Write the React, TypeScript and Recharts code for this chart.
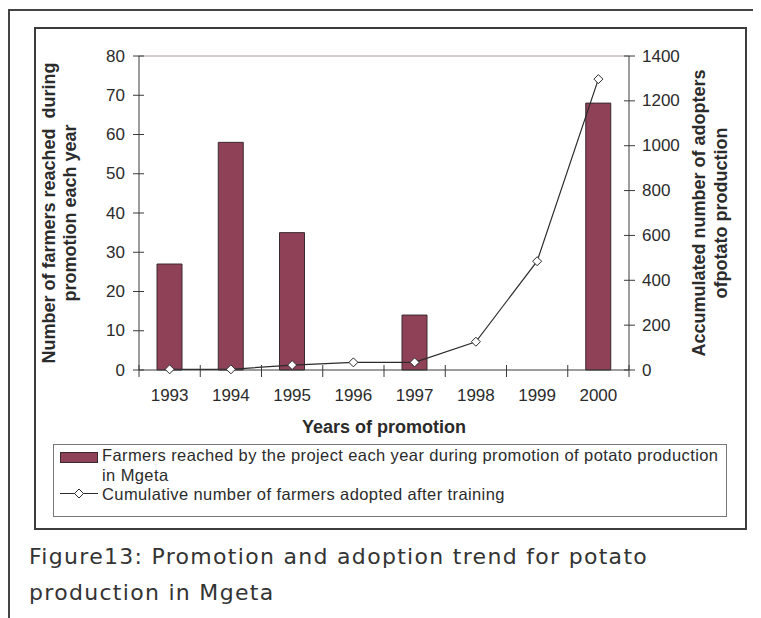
import React from 'react';
import { ComposedChart, Bar, Line, XAxis, YAxis, ReferenceLine } from 'recharts';

const years = ['1993', '1994', '1995', '1996', '1997', '1998', '1999', '2000'];
const farmersReached = [27, 58, 35, null, 14, null, null, 68];
const cumulativeAdopters = [3, 3, 22, 34, 34, 126, 485, 1297];
const leftTicks = [0, 10, 20, 30, 40, 50, 60, 70, 80];
const rightTicks = [0, 200, 400, 600, 800, 1000, 1200, 1400];

const data = years.map((year, i) => ({
  year,
  reached: farmersReached[i],
  cumulative: cumulativeAdopters[i],
}));

const BAR = '#8f4257';
const INK = '#2b2b2b';
const AXIS = '#3a3a3a';
const FONT = '"Liberation Sans", Arial, sans-serif';
const TICK = 6;
const MARGIN = 2;
const HALF_BAND = 30.625;

const LeftTick = (props: any) => {
  const { x, y, payload } = props;
  const ax = x + TICK + MARGIN;
  return (
    <g>
      <line x1={ax - 6} x2={ax + 5} y1={y} y2={y} stroke={AXIS} />
      <text x={ax - 14} y={y} textAnchor="end" dominantBaseline="central" fontSize={17} fill={INK} fontFamily={FONT}>
        {payload.value}
      </text>
    </g>
  );
};

const RightTick = (props: any) => {
  const { x, y, payload } = props;
  const ax = x - TICK - MARGIN;
  return (
    <g>
      <line x1={ax - 5} x2={ax + 6} y1={y} y2={y} stroke={AXIS} />
      <text x={ax + 13} y={y} textAnchor="start" dominantBaseline="central" fontSize={17} fill={INK} fontFamily={FONT}>
        {payload.value}
      </text>
    </g>
  );
};

const BottomTick = (props: any) => {
  const { x, y, payload, index, visibleTicksCount } = props;
  const ay = y - TICK - MARGIN;
  const half = payload && payload.offset > 0 ? payload.offset : HALF_BAND;
  return (
    <g>
      <line x1={x - half} x2={x - half} y1={ay - 5} y2={ay + 7} stroke={AXIS} />
      {index === visibleTicksCount - 1 && (
        <line x1={x + half} x2={x + half} y1={ay - 5} y2={ay + 7} stroke={AXIS} />
      )}
      <text x={x} y={ay + 25} textAnchor="middle" dominantBaseline="central" fontSize={17} fill={INK} fontFamily={FONT}>
        {payload.value}
      </text>
    </g>
  );
};

const titleStyle = { whiteSpace: 'pre' as const };

const LeftTitle = ({ viewBox }: any) => {
  const cy = viewBox.y + viewBox.height / 2;
  return (
    <g fontFamily={FONT} fontSize={18} fontWeight="bold" fill={INK}>
      <text transform={`translate(${viewBox.x + 13},${cy}) rotate(-90)`} textAnchor="middle" dominantBaseline="central" style={titleStyle}>
        Number of farmers reached  during
      </text>
      <text transform={`translate(${viewBox.x + 34},${cy}) rotate(-90)`} textAnchor="middle" dominantBaseline="central">
        promotion each year
      </text>
    </g>
  );
};

const RightTitle = ({ viewBox }: any) => {
  const cy = viewBox.y + viewBox.height / 2;
  return (
    <g fontFamily={FONT} fontSize={18} fontWeight="bold" fill={INK}>
      <text transform={`translate(${viewBox.x + 70},${cy}) rotate(-90)`} textAnchor="middle" dominantBaseline="central">
        Accumulated number of adopters
      </text>
      <text transform={`translate(${viewBox.x + 92},${cy}) rotate(-90)`} textAnchor="middle" dominantBaseline="central">
        ofpotato production
      </text>
    </g>
  );
};

const BottomTitle = ({ viewBox }: any) => (
  <text
    x={viewBox.x + viewBox.width / 2}
    y={viewBox.y + 57}
    textAnchor="middle"
    dominantBaseline="central"
    fontFamily={FONT}
    fontSize={18}
    fontWeight="bold"
    fill={INK}
  >
    Years of promotion
  </text>
);

const Diamond = (props: any) => {
  const { cx, cy } = props;
  if (cx == null || cy == null) return null;
  return (
    <polygon
      points={`${cx},${cy - 4.5} ${cx + 4.5},${cy} ${cx},${cy + 4.5} ${cx - 4.5},${cy}`}
      fill="#fff"
      stroke={INK}
      strokeWidth={1}
    />
  );
};

const legendText: React.CSSProperties = {
  position: 'absolute',
  left: 48,
  fontFamily: FONT,
  fontSize: 16.5,
  letterSpacing: 0.4,
  lineHeight: '18px',
  color: INK,
  whiteSpace: 'nowrap',
};

const App = () => {
  return (
    <div style={{ position: 'relative', width: 753, height: 610 }}>
      <style>{'html{overflow:hidden}'}</style>
      <div
        style={{
          position: 'absolute',
          left: 0,
          top: 1,
          width: 770,
          height: 620,
          borderLeft: '2px solid #444',
          borderTop: '2px solid #444',
          boxSizing: 'border-box',
        }}
      />
      <div
        style={{
          position: 'absolute',
          left: 26,
          top: 19,
          width: 713,
          height: 503,
          border: '2px solid #3c3c3c',
          boxSizing: 'border-box',
          background: '#fff',
        }}
      >
        <div style={{ position: 'absolute', left: 0, top: 0 }}>
          <ComposedChart width={709} height={499} data={data} margin={{ top: 27, right: 0, bottom: 128, left: 0 }}>
            <XAxis
              dataKey="year"
              height={30}
              axisLine={{ stroke: AXIS }}
              tickLine={false}
              tickSize={TICK}
              tickMargin={MARGIN}
              tick={<BottomTick />}
              interval={0}
              label={BottomTitle}
            />
            <YAxis
              yAxisId="left"
              orientation="left"
              width={103}
              domain={[0, 80]}
              ticks={leftTicks}
              interval={0}
              axisLine={{ stroke: AXIS }}
              tickLine={false}
              tickSize={TICK}
              tickMargin={MARGIN}
              tick={<LeftTick />}
              label={LeftTitle}
            />
            <YAxis
              yAxisId="right"
              orientation="right"
              width={116}
              domain={[0, 1400]}
              ticks={rightTicks}
              interval={0}
              axisLine={{ stroke: AXIS }}
              tickLine={false}
              tickSize={TICK}
              tickMargin={MARGIN}
              tick={<RightTick />}
              label={RightTitle}
            />
            <ReferenceLine yAxisId="left" y={80} stroke="#a89a9a" strokeWidth={1} />
            <Bar
              yAxisId="left"
              dataKey="reached"
              barSize={25}
              fill={BAR}
              stroke="#3a2a2e"
              strokeWidth={1}
              isAnimationActive={false}
            />
            <Line
              yAxisId="right"
              dataKey="cumulative"
              type="linear"
              stroke={INK}
              strokeWidth={1.2}
              dot={<Diamond />}
              activeDot={false}
              isAnimationActive={false}
            />
          </ComposedChart>
        </div>
        <div
          style={{
            position: 'absolute',
            left: 17,
            top: 415,
            width: 674,
            height: 73,
            border: '1px solid #777',
            boxSizing: 'border-box',
          }}
        >
          <svg width={46} height={60} style={{ position: 'absolute', left: 0, top: 0 }}>
            <rect x={6.5} y={7.5} width={37} height={10} fill={BAR} stroke="#3a2a2e" />
            <line x1={6} x2={44} y1={48.5} y2={48.5} stroke={INK} strokeWidth={1.2} />
            <polygon points="25,44 29.5,48.5 25,53 20.5,48.5" fill="#fff" stroke={INK} />
          </svg>
          <div style={{ ...legendText, top: 1 }}>
            Farmers reached by the project each year during promotion of potato production
          </div>
          <div style={{ ...legendText, top: 21 }}>in Mgeta</div>
          <div style={{ ...legendText, top: 40 }}>Cumulative number of farmers adopted after training</div>
        </div>
      </div>
      <div
        style={{
          position: 'absolute',
          left: 21,
          top: 531,
          fontFamily: '"DejaVu Sans", sans-serif',
          fontSize: 22,
          letterSpacing: 1.3,
          lineHeight: '36px',
          color: '#333',
          whiteSpace: 'nowrap',
        }}
      >
        <div>Figure13: Promotion and adoption trend for potato</div>
        <div>production in Mgeta</div>
      </div>
    </div>
  );
};

export default App;
